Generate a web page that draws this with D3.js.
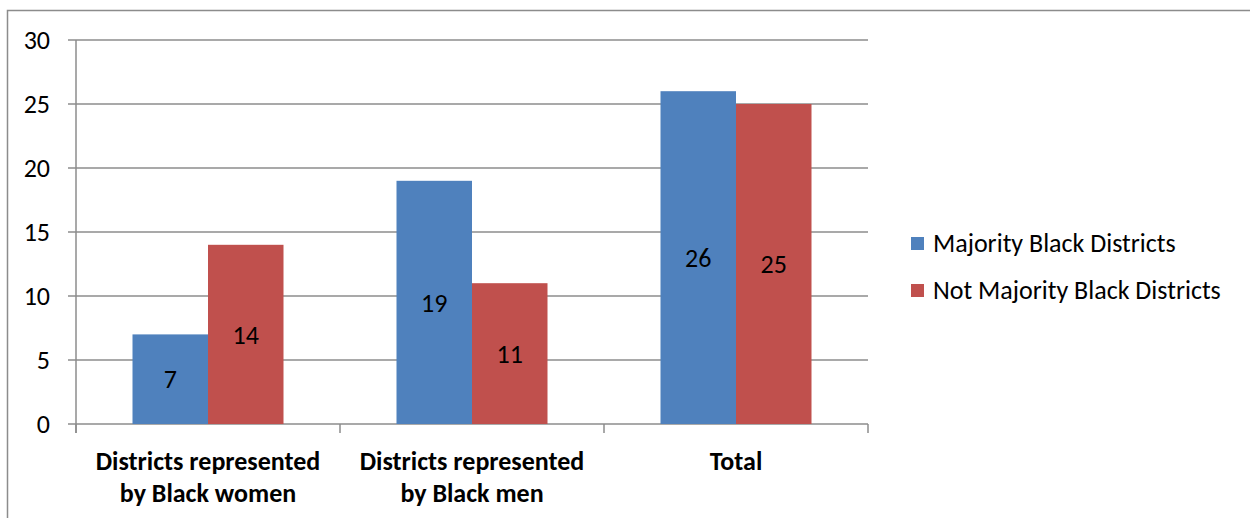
<!DOCTYPE html>
<html>
<head>
<meta charset="utf-8">
<script src="https://cdn.jsdelivr.net/npm/d3@7"></script>
<style>
  body { margin: 0; background: #fff; }
  svg { font-family: Carlito, Lato, "Open Sans", sans-serif; }
</style>
</head>
<body>
<div id="chart"></div>
<script>
// Chart data
const categories = [
    ["Districts represented", "by Black women"],
    ["Districts represented", "by Black men"],
    ["Total"]
];
const seriesNames = ["Majority Black Districts", "Not Majority Black Districts"];
const majorityValues = [7, 19, 26];
const notMajorityValues = [14, 11, 25];
const yTicks = [0, 5, 10, 15, 20, 25, 30];
const colors = ["#4F81BD", "#C0504D"];

const width = 1250, height = 518;
const margin = { left: 76, right: 382, top: 40, bottom: 94 };
const fontSize = 26;

const svg = d3.select("#chart").append("svg")
    .attr("width", width)
    .attr("height", height);

// outer frame (only top/left visible in the original crop)
svg.append("rect")
    .attr("x", 7.5).attr("y", 10.5)
    .attr("width", width + 20).attr("height", height + 20)
    .attr("fill", "#fff")
    .attr("stroke", "#8c8c8c")
    .attr("stroke-width", 1.5);

const x0 = d3.scaleBand()
    .domain(d3.range(categories.length))
    .range([margin.left, width - margin.right]);

// each pair of bars sits in the middle ~57% of its band
const pad = 56.5;
const x1 = d3.scaleBand()
    .domain([0, 1])
    .range([pad, x0.bandwidth() - pad]);

const y = d3.scaleLinear()
    .domain([0, 30])
    .range([height - margin.bottom, margin.top]);

// gridlines
svg.append("g")
    .selectAll("line")
    .data(yTicks)
    .join("line")
    .attr("x1", margin.left - 8)
    .attr("x2", width - margin.right)
    .attr("y1", d => y(d))
    .attr("y2", d => y(d))
    .attr("stroke", "#8c8c8c")
    .attr("stroke-width", 1.5);

// y axis labels
svg.append("g")
    .selectAll("text")
    .data(yTicks)
    .join("text")
    .attr("x", 50)
    .attr("y", d => y(d))
    .attr("dy", "0.35em")
    .attr("text-anchor", "end")
    .attr("font-size", fontSize)
    .attr("fill", "#000")
    .text(d => d);

// y axis line
svg.append("line")
    .attr("x1", margin.left).attr("x2", margin.left)
    .attr("y1", y(30)).attr("y2", y(0) + 9)
    .attr("stroke", "#8c8c8c")
    .attr("stroke-width", 1.5);

// category ticks
svg.append("g")
    .selectAll("line")
    .data(d3.range(categories.length + 1))
    .join("line")
    .attr("x1", i => i < categories.length ? x0(i) : x0(i - 1) + x0.bandwidth())
    .attr("x2", i => i < categories.length ? x0(i) : x0(i - 1) + x0.bandwidth())
    .attr("y1", y(0))
    .attr("y2", y(0) + 9)
    .attr("stroke", "#8c8c8c")
    .attr("stroke-width", 1.5);

// bars
const rows = categories.map((c, i) => [majorityValues[i], notMajorityValues[i]]);

const groups = svg.append("g")
    .selectAll("g")
    .data(rows)
    .join("g")
    .attr("transform", (d, i) => `translate(${x0(i)},0)`);

groups.selectAll("rect")
    .data(d => d)
    .join("rect")
    .attr("x", (d, j) => x1(j))
    .attr("y", d => y(d))
    .attr("width", x1.bandwidth())
    .attr("height", d => y(0) - y(d))
    .attr("fill", (d, j) => colors[j]);

groups.selectAll("text")
    .data(d => d)
    .join("text")
    .attr("x", (d, j) => x1(j) + x1.bandwidth() / 2)
    .attr("y", d => (y(d) + y(0)) / 2)
    .attr("dy", "0.35em")
    .attr("text-anchor", "middle")
    .attr("font-size", fontSize)
    .attr("fill", "#000")
    .text(d => d);

// category labels
svg.append("g")
    .selectAll("text")
    .data(categories)
    .join("text")
    .attr("x", (d, i) => x0(i) + x0.bandwidth() / 2)
    .attr("y", 461)
    .attr("text-anchor", "middle")
    .attr("font-size", fontSize)
    .attr("font-weight", "bold")
    .attr("fill", "#000")
    .selectAll("tspan")
    .data(d => d)
    .join("tspan")
    .attr("x", function () { return d3.select(this.parentNode).attr("x"); })
    .attr("dy", (d, k) => k === 0 ? "0.35em" : 32)
    .text(d => d);

// legend
const legend = svg.append("g")
    .selectAll("g")
    .data(seriesNames)
    .join("g")
    .attr("transform", (d, i) => `translate(911,${243 + i * 47})`);

legend.append("rect")
    .attr("x", 0).attr("y", -6)
    .attr("width", 13).attr("height", 13)
    .attr("fill", (d, i) => colors[i]);

legend.append("text")
    .attr("x", 22)
    .attr("dy", "0.35em")
    .attr("font-size", fontSize)
    .attr("fill", "#000")
    .text(d => d);
</script>
</body>
</html>
